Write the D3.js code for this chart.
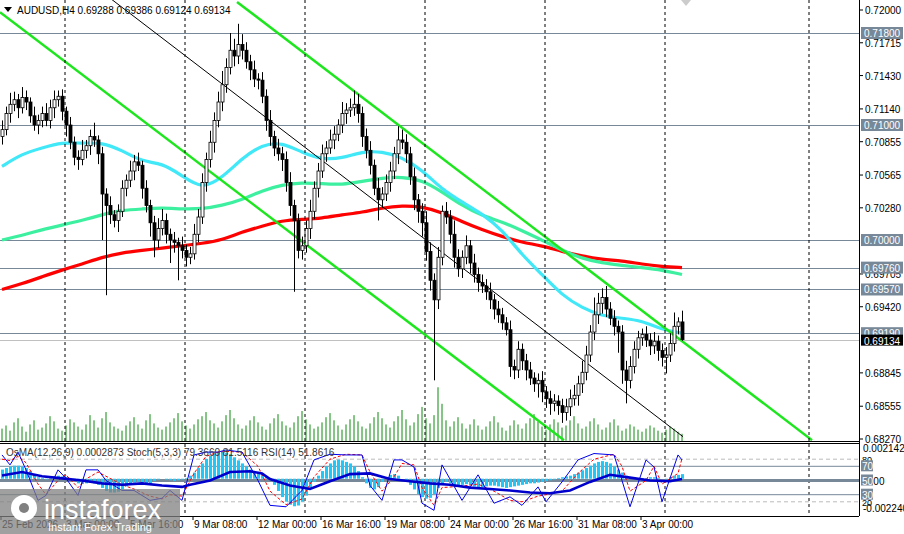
<!DOCTYPE html>
<html><head><meta charset="utf-8">
<script src="https://cdn.jsdelivr.net/npm/d3@7"></script>
<style>body{margin:0;background:#fff}svg text{font-family:"Liberation Sans",Arial,sans-serif}</style>
</head><body><svg id="c" width="904" height="534"></svg>
<script>
// closes per H4 bar
var closes = [
.7096,.7110,.7118,.7122,.7115,.7124,.7120,.7108,.7100,.7104,
.7110,.7104,.7115,.7122,.7125,.7112,.7100,.7085,.7072,.7070,
.7078,.7082,.7090,.7087,.7075,.7040,.7030,.7022,.7017,.7025,
.7045,.7052,.7060,.7068,.7065,.7045,.7030,.7015,.7000,.7010,
.7017,.7005,.7000,.6998,.6995,.6991,.6985,.6988,.7005,.7020,
.7050,.7070,.7085,.7104,.7120,.7135,.7150,.7165,.7160,.7170,
.7165,.7155,.7148,.7140,.7139,.7125,.7104,.7090,.7080,.7075,
.7070,.7050,.7030,.7017,.6991,.6995,.7010,.7025,.7045,.7060,
.7075,.7080,.7087,.7092,.7100,.7110,.7113,.7115,.7118,.7110,
.7090,.7078,.7065,.7045,.7035,.7040,.7050,.7060,.7075,.7087,
.7085,.7075,.7055,.7035,.7025,.7015,.6990,.6965,.6948,.6985,
.7025,.7020,.7005,.6985,.6975,.6985,.6995,.6980,.6970,.6963,
.6960,.6955,.6948,.6940,.6935,.6928,.6922,.6890,.6887,.6905,
.6895,.6887,.6880,.6875,.6878,.6868,.6862,.6858,.6860,.6856,
.6850,.6855,.6862,.6865,.6875,.6885,.6900,.6920,.6935,.6945,
.6950,.6940,.6932,.6925,.6920,.6887,.6878,.6890,.6905,.6915,
.6918,.6913,.6908,.6912,.6904,.6898,.6900,.6910,.6925,.69288,
.69134];
var firstOpen = .7090;
// wick lengths beyond body, pips
var hiPip = [
8,6,10,7,5,9,6,4,8,5, 6,9,7,8,5,6,4,7,5,6, 9,5,6,12,4,6,5,8,4,6,
7,5,9,6,8,4,7,5,6,9, 10,6,5,7,4,8,5,6,9,7, 8,6,10,7,9,12,8,15,10,18,
9,7,6,8,5,7,6,9,5,8, 6,7,9,5,6,8,7,10,6,7, 8,6,9,7,5,10,6,8,12,9,
6,7,8,5,9,6,7,8,6,12, 9,7,6,8,5,7,10,8,6,9, 5,8,6,12,7,6,9,5,8,6,
7,6,8,5,7,6,5,8,6,7, 5,6,7,5,6,8,5,7,6,5, 6,7,8,9,7,10,8,6,15,9,
8,10,6,7,5,6,8,9,7,6, 5,7,6,8,5,6,7,9,12,4, 3];
var loPip = [
7,5,8,6,9,5,7,6,5,8, 6,5,7,9,6,8,10,6,7,9, 5,7,8,6,9,40,78,8,6,10,
5,7,6,8,5,9,6,12,15,7, 6,8,20,9,30,7,8,6,5,7, 6,8,7,9,6,8,7,6,9,7,
8,6,9,7,8,6,9,8,7,6, 10,8,9,62,7,8,6,9,7,8, 6,7,5,8,6,7,9,6,7,8,
9,7,8,6,18,7,6,8,7,9, 6,8,7,9,10,12,8,9,70,8, 7,6,8,9,7,8,6,9,7,8,
6,7,8,9,7,6,5,9,8,7, 8,9,6,7,12,9,8,10,7,8, 9,7,8,6,9,8,7,6,7,8,
9,7,6,8,18,12,20,7,6,8, 7,6,8,7,9,8,14,6,7,7, 1];
var volumes = [
12,15,10,18,22,14,9,16,20,11, 13,17,24,19,12,10,15,21,18,14, 11,16,25,20,13,22,28,18,14,12,
10,15,19,23,16,12,20,26,17,13, 11,14,18,22,27,19,15,12,16,21, 24,28,20,17,13,19,25,30,22,16,
12,15,20,24,18,14,11,17,22,26, 19,15,13,18,24,29,21,16,12,14, 18,23,27,20,15,11,16,21,25,19,
14,12,17,23,28,22,16,13,19,24, 30,21,15,18,26,33,22,17,25,52, 36,20,14,19,23,17,12,16,21,15,
11,14,19,24,18,13,10,15,20,16, 12,17,22,26,19,14,11,16,21,18, 13,15,20,24,17,12,14,19,22,16,
11,13,18,21,15,10,12,16,14,11, 9,12,15,13,10,8,11,14,12,9, 7];
var osma = [ // 1e-5
60,70,80,85,85,80,70,50,30,10, 5,-5,10,15,20,15,10,-5,-15,-30,
-35,-30,-25,-30,-40,-60,-80,-90,-90,-85, -70,-50,-35,-25,-20,-25,-35,-30,-15,-5,
0,-5,-10,-15,-10,-5,5,20,40,70, 100,130,150,165,175,175,170,160,140,120,
100,80,60,50,45,35,15,-10,-40,-80, -120,-150,-170,-180,-175,-150,-110,-60,-20,20,
50,80,100,120,125,120,110,100,80,50, 10,-30,-60,-70,-55,-20,10,25,30,20,
0,-20,-40,-70,-100,-120,-130,-125,-100,-60, -30,-20,-30,-40,-45,-40,-35,-40,-50,-55,
-55,-50,-45,-45,-50,-55,-60,-55,-50,-45, -40,-35,-30,-30,-25,-20,-15,-10,-5,5,
10,15,20,30,40,55,70,85,100,110, 115,110,100,80,60,40,20,10,0,5,
5,5,10,10,5,0,-5,10,20,25, 30];

var maBars = [0,5,10,15,20,25,30,35,40,45,50,55,60,65,70,75,80,85,90,95,100,105,110,115,120,125,130,135,140,145,150,155,160,165,170];
var maFast = [.7064,.7075,.7080,.7085,.7084,.7085,.7078,.7068,.7067,.7056,.7044,.7054,.7071,.7083,.7085,.7076,.7070,.7071,.7077,.7077,.7072,.7061,.7044,.7033,.7023,.7009,.6987,.6970,.6952,.6941,.6934,.6932,.6930,.6922,.6919];
var maMid = [.7000,.7004,.7009,.7013,.7017,.7022,.7026,.7027,.7028,.7027,.7027,.7030,.7035,.7043,.7048,.7050,.7049,.7048,.7051,.7054,.7055,.7052,.7042,.7030,.7021,.7016,.7008,.7000,.6991,.6984,.6980,.6978,.6976,.6974,.6970];
var maSlow = [.6957,.6962,.6968,.6974,.6979,.6985,.6989,.6991,.6993,.6995,.6997,.7000,.7007,.7012,.7017,.7018,.7019,.7022,.7024,.7028,.7030,.7029,.7024,.7016,.7009,.7003,.6998,.6995,.6990,.6986,.6983,.6982,.6979,.6977,.6976];

var stBars = [0,2,4,6,9,11,14,16,19,21,24,26,30,33,37,40,42,45,48,51,54,56,60,64,67,71,75,78,82,86,90,92,95,98,100,103,105,108,110,115,119,123,127,130,134,136,140,144,148,153,155,157,161,163,165,169,170];
var stMain = [86,72,90,65,22,29,65,53,29,65,65,50,36,36,22,25,36,22,86,90,90,93,90,50,15,13,36,79,87,86,86,43,22,79,79,69,18,8,72,22,58,18,27,15,41,20,48,79,88,86,50,13,79,69,20,86,79];
var stSig = [80,78,84,75,45,30,50,58,40,52,62,56,44,38,28,24,30,28,60,84,90,91,90,70,35,16,24,55,80,87,86,62,35,55,74,72,40,15,40,42,45,35,22,20,28,30,35,60,80,87,70,35,50,70,45,60,81];
var rsiBars = [0,5,10,15,20,25,30,35,40,45,47,52,57,62,65,67,72,77,82,87,92,97,102,107,112,117,122,127,132,137,142,147,152,157,162,167,170];
var rsi = [57,62,56,53,50,46,44,46,43,41,44,50,62,63,60,52,43,38,49,59,60,52,49,46,44,40,38,36,33,32,36,48,58,54,50,49,52];

var levels = [0.7180, 0.7100, 0.7000, 0.6976, 0.6957, 0.6919];
var lastPrice = 0.69134;
var priceTicks = [0.72000,0.71715,0.71430,0.71140,0.70855,0.70565,0.70280,0.69705,0.69420,0.68845,0.68555,0.68270];
// trend channel end points: [bar, price]
var channels = [
  {a:[58.75,.7207], b:[202.5,.6826], c:"#1ee61e", w:2.5},
  {a:[-0.5,.7198],  b:[140.5,.6826], c:"#1ee61e", w:2.5},
  {a:[27.5,.7209],  b:[170.25,.6829], c:"#000", w:1}
];
var sepBars = [16,46,76,106,136,166,202];
var timeBars = [0,16,32,48,64,80,96,112,128,144,160];
var timeLabels = ["25 Feb 2026","3 Mar 00:00","5 Mar 16:00","9 Mar 08:00","12 Mar 00:00","16 Mar 16:00","19 Mar 08:00","24 Mar 00:00","26 Mar 16:00","31 Mar 08:00","3 Apr 00:00"];

var svg = d3.select("#c");
var W = 859, mainB = 441, indT = 443, indB = 516;
var x = d3.scaleLinear().domain([0, 1]).range([2, 6]);
var y = d3.scaleLinear().domain([0.6827, 0.7200]).range([439, 10]);
var yi = d3.scaleLinear().domain([0, 100]).range([516, 445]);
var yo = d3.scaleLinear().domain([-224, 214]).range([513, 446]);
var yv = d3.scaleLinear().domain([0, 60]).range([mainB, mainB - 62]);

var main = svg.append("g");
main.append("defs").append("clipPath").attr("id","cm").append("rect").attr("width",W).attr("height",mainB);
main.append("defs").append("clipPath").attr("id","ci").append("rect").attr("y",indT).attr("width",W).attr("height",indB-indT);
var gm = main.append("g").attr("clip-path","url(#cm)");

// volumes
gm.selectAll(".v").data(volumes).enter().append("line")
  .attr("x1",(d,i)=>x(i)).attr("x2",(d,i)=>x(i)).attr("y1",mainB).attr("y2",d=>yv(d))
  .attr("stroke","#0a8a0a").attr("stroke-width",1);

// separators
sepBars.forEach(b=>{
  svg.append("line").attr("x1",x(b)-1).attr("x2",x(b)-1).attr("y1",0).attr("y2",indB)
    .attr("stroke","#000").attr("stroke-dasharray","3,3");
});

// levels
levels.forEach(l=>{
  gm.append("line").attr("x1",0).attr("x2",W).attr("y1",Math.round(y(l))+.5).attr("y2",Math.round(y(l))+.5).attr("stroke","#778899");
});
gm.append("line").attr("x1",0).attr("x2",W).attr("y1",Math.round(y(lastPrice))+.5).attr("y2",Math.round(y(lastPrice))+.5).attr("stroke","#c0c0c0");

// moving averages
var ln = d3.line().curve(d3.curveBasis).x((d,i)=>x(maBars[i])).y(d=>y(d));
[[maSlow,"#ff0000"],[maMid,"#3cf0a0"],[maFast,"#40e8f8"]].forEach(m=>{
  gm.append("path").attr("d",ln(m[0])).attr("fill","none").attr("stroke",m[1]).attr("stroke-width",3.2);
});

// channels
channels.forEach(c=>{
  gm.append("line").attr("x1",x(c.a[0])).attr("y1",y(c.a[1])).attr("x2",x(c.b[0])).attr("y2",y(c.b[1]))
    .attr("stroke",c.c).attr("stroke-width",c.w);
});

// candles
var bars = closes.map((c,i)=>{
  var o = i ? closes[i-1] : firstOpen;
  return {i:i,o:o,c:c,h:Math.max(o,c)+hiPip[i]*1e-4/10*1, l:Math.min(o,c)-loPip[i]*1e-4/10*1};
});
bars.forEach(b=>{ b.h = Math.max(b.o,b.c)+hiPip[b.i]*1e-4; b.l = Math.min(b.o,b.c)-loPip[b.i]*1e-4; });
bars[170].h = 0.69386; bars[170].l = 0.69124;
var cg = gm.selectAll(".k").data(bars).enter().append("g");
cg.append("line").attr("x1",d=>x(d.i)+.5).attr("x2",d=>x(d.i)+.5).attr("y1",d=>y(d.h)).attr("y2",d=>y(d.l)).attr("stroke","#000");
cg.append("rect").attr("x",d=>x(d.i)-1).attr("width",3)
  .attr("y",d=>y(Math.max(d.o,d.c))).attr("height",d=>Math.max(1,Math.abs(y(d.o)-y(d.c))))
  .attr("fill",d=>d.c>=d.o?"#fff":"#000").attr("stroke","#000").attr("stroke-width",.8);

// frames
svg.append("line").attr("x1",W+.5).attr("x2",W+.5).attr("y1",0).attr("y2",indB).attr("stroke","#000");
svg.append("line").attr("x1",0).attr("x2",W).attr("y1",mainB+.5).attr("y2",mainB+.5).attr("stroke","#000");
svg.append("line").attr("x1",0).attr("x2",W).attr("y1",indT+.5).attr("y2",indT+.5).attr("stroke","#000");
svg.append("line").attr("x1",0).attr("x2",W).attr("y1",indB+.5).attr("y2",indB+.5).attr("stroke","#000");

// price axis
priceTicks.forEach(p=>{
  svg.append("line").attr("x1",W).attr("x2",W+4).attr("y1",y(p)).attr("y2",y(p)).attr("stroke","#000");
  svg.append("text").attr("x",W+6).attr("y",y(p)+4).attr("font-size",10).text(p.toFixed(5));
});
levels.forEach(l=>{
  svg.append("rect").attr("x",W+2).attr("y",y(l)-6).attr("width",42).attr("height",12).attr("fill","#778899");
  svg.append("text").attr("x",W+5).attr("y",y(l)+4).attr("font-size",10).attr("fill","#fff").text(l.toFixed(5));
});
svg.append("rect").attr("x",W+2).attr("y",y(lastPrice)-5).attr("width",42).attr("height",11).attr("fill","#000");
svg.append("text").attr("x",W+5).attr("y",y(lastPrice)+5).attr("font-size",10).attr("fill","#fff").text(lastPrice.toFixed(5));

// indicator window
var gi = svg.append("g").attr("clip-path","url(#ci)");
[80,20].forEach(v=>gi.append("line").attr("x1",0).attr("x2",W).attr("y1",yi(v)).attr("y2",yi(v)).attr("stroke","#bbb").attr("stroke-dasharray","4,3"));
[70,30].forEach(v=>gi.append("line").attr("x1",0).attr("x2",W).attr("y1",yi(v)).attr("y2",yi(v)).attr("stroke","#778899"));
gi.append("line").attr("x1",0).attr("x2",W).attr("y1",yi(50)).attr("y2",yi(50)).attr("stroke","#778899").attr("stroke-width",3);
gi.selectAll(".o").data(osma).enter().append("rect")
  .attr("x",(d,i)=>x(i)-1).attr("width",3)
  .attr("y",d=>Math.min(yo(d),yo(0))).attr("height",d=>Math.abs(yo(d)-yo(0)))
  .attr("fill","#1ec8f8");
var li = d3.line().x((d,i)=>x(stBars[i])).y(d=>yi(d));
gi.append("path").attr("d",li(stSig)).attr("fill","none").attr("stroke","#ff0000").attr("stroke-dasharray","3,2");
gi.append("path").attr("d",li(stMain)).attr("fill","none").attr("stroke","#0000ee");
var lr = d3.line().x((d,i)=>x(rsiBars[i])).y(d=>yi(d));
gi.append("path").attr("d",lr(rsi)).attr("fill","none").attr("stroke","#0000cd").attr("stroke-width",2.6);

svg.append("text").attr("x",6).attr("y",456).attr("font-size",10).attr("fill","#333")
  .text("OsMA(12,26,9) 0.0002873  Stoch(5,3,3) 79.3660 81.5116  RSI(14) 51.8616");

// indicator axis labels
svg.append("text").attr("x",W+4).attr("y",452).attr("font-size",10).text("0.002142");
svg.append("text").attr("x",W+4).attr("y",512).attr("font-size",10).text("-0.002240");
svg.append("text").attr("x",W+6).attr("y",yi(50)+4).attr("font-size",10).text("0.00");
[80,20].forEach(v=>svg.append("text").attr("x",W+3).attr("y",yi(v)+4).attr("font-size",9).text(v));
[70,50,30].forEach(v=>{
  svg.append("rect").attr("x",W+2).attr("y",yi(v)-6).attr("width",12).attr("height",11).attr("fill","#778899");
  svg.append("text").attr("x",W+3).attr("y",yi(v)+4).attr("font-size",10).attr("fill","#fff").text(v);
});

// time axis
timeBars.forEach((b,k)=>{
  svg.append("line").attr("x1",x(b)-1).attr("x2",x(b)-1).attr("y1",indB).attr("y2",indB+4).attr("stroke","#000");
  svg.append("text").attr("x",x(b)).attr("y",528).attr("font-size",10).text(timeLabels[k]);
});

// title
svg.append("path").attr("d","M4,7 L12,7 L8,12 Z").attr("fill","#000");
svg.append("text").attr("x",17).attr("y",14).attr("font-size",10).text("AUDUSD,H4  0.69288 0.69386 0.69124 0.69134");
svg.append("path").attr("d","M681,0 L691,0 L686,6 Z").attr("fill","#ccc");

// watermark
var wm = svg.append("g");
wm.append("rect").attr("x",0).attr("y",489).attr("width",180).attr("height",45).attr("fill","#808080").attr("opacity",.75);
wm.append("circle").attr("cx",24).attr("cy",508).attr("r",13).attr("fill","#fff");
wm.append("circle").attr("cx",24).attr("cy",508).attr("r",5).attr("fill","#808080");
wm.append("text").attr("x",44).attr("y",519).attr("font-size",27).attr("fill","#fff").attr("font-family","Open Sans").text("instaforex");
wm.append("text").attr("x",48).attr("y",531).attr("font-size",11).attr("fill","#fff").text("Instant Forex Trading");
</script></body></html>
